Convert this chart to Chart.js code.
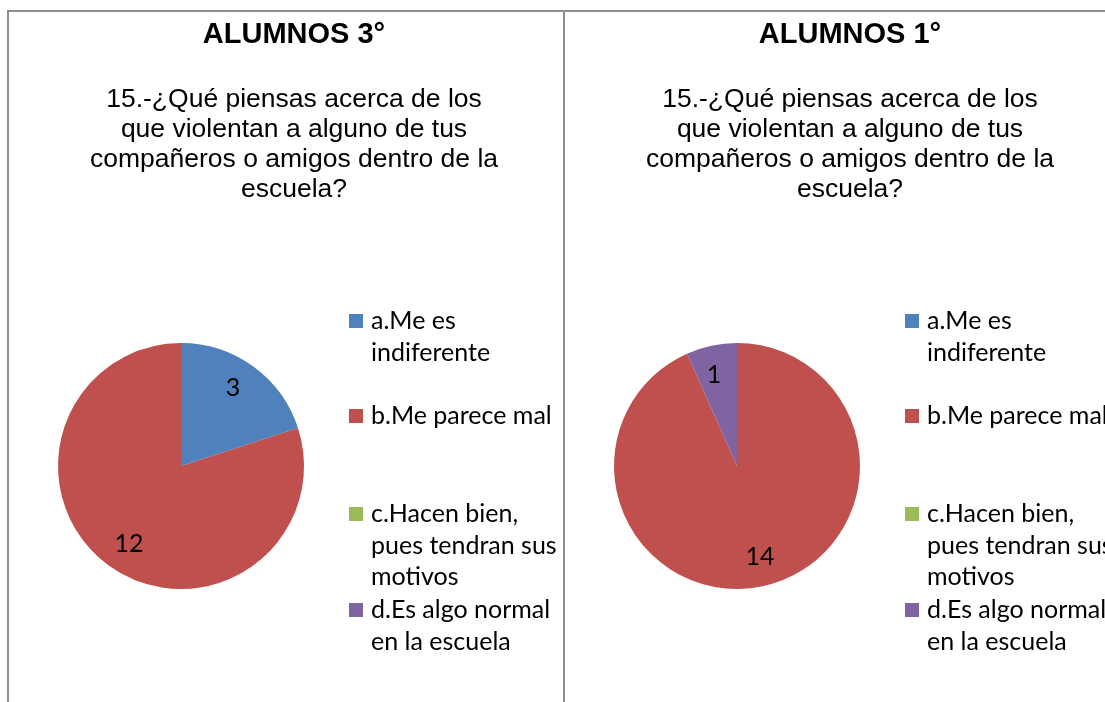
<!DOCTYPE html>
<html>
<head>
<meta charset="utf-8">
<script src="https://cdn.jsdelivr.net/npm/chart.js@4"></script>
<style>
  html, body { margin: 0; padding: 0; background: #fff; overflow: hidden; width: 1105px; height: 702px; }
  .panel { position: absolute; top: 10px; height: 700px; border-top: 2px solid #8e8e8e; box-sizing: border-box; }
  #p1 { left: 7px; width: 558px; border-left: 2px solid #8e8e8e; border-right: 2px solid #8e8e8e; }
  #p2 { left: 563px; width: 600px; }
  canvas { position: absolute; }
</style>
</head>
<body>
<div class="panel" id="p1"></div>
<div class="panel" id="p2"></div>
<canvas id="chart3" width="553" height="690" style="left:9px;top:12px"></canvas>
<canvas id="chart1" width="540" height="690" style="left:565px;top:12px"></canvas>
<script>
const categorias = [
  ['a.Me es', 'indiferente'],
  ['b.Me parece mal'],
  ['c.Hacen bien,', 'pues tendran sus', 'motivos'],
  ['d.Es algo normal', 'en la escuela']
]
const alumnos3 = [3, 12, 0, 0]
const alumnos1 = [0, 14, 0, 1]
const titulo3 = 'ALUMNOS 3°'
const titulo1 = 'ALUMNOS 1°'
const pregunta = [
  '15.-¿Qué piensas acerca de los',
  'que violentan a alguno de tus',
  'compañeros o amigos dentro de la',
  'escuela?'
]
const colores = ['#4F81BD', '#C0504D', '#9BBB59', '#8064A2']

const legendY = [309, 404, 502, 598]   // first line of each legend item
const legendFont = '25px Lato'

// titles, legend and value labels drawn on the canvas
const textos = {
  id: 'textos',
  afterDatasetsDraw(chart, args, opts) {
    const ctx = chart.ctx
    ctx.save()
    ctx.fillStyle = '#000'
    ctx.textAlign = 'center'
    ctx.textBaseline = 'middle'
    ctx.font = 'bold 29px "Liberation Sans", Arial'
    ctx.fillText(opts.titulo, 285, 23)
    ctx.font = '26.5px "Liberation Sans", Arial'
    pregunta.forEach((l, i) => ctx.fillText(l, 285, 88 + i * 30))

    // legend
    ctx.textAlign = 'left'
    ctx.font = legendFont
    categorias.forEach((lines, i) => {
      ctx.fillStyle = colores[i]
      ctx.fillRect(340, legendY[i] - 7, 14, 14)
      ctx.fillStyle = '#000'
      lines.forEach((l, j) => ctx.fillText(l, 362, legendY[i] + j * 31.5))
    })

    // value labels
    ctx.textAlign = 'center'
    const meta = chart.getDatasetMeta(0)
    const vals = chart.data.datasets[0].data
    meta.data.forEach((arc, i) => {
      if (!vals[i]) return
      const p = arc.getProps(['x', 'y', 'startAngle', 'endAngle', 'outerRadius'], true)
      const mid = (p.startAngle + p.endAngle) / 2 - 0.04
      const r = p.outerRadius * 0.76
      ctx.fillText(String(vals[i]), p.x + Math.cos(mid) * r, p.y + Math.sin(mid) * r)
    })
    ctx.restore()
  }
}

function makePie(el, valores, titulo, padRight) {
  return new Chart(document.getElementById(el), {
    type: 'pie',
    data: {
      labels: categorias.map(c => c.join(' ')),
      datasets: [{
        data: valores,
        backgroundColor: colores,
        borderWidth: 0,
        hoverOffset: 0
      }]
    },
    options: {
      responsive: false,
      animation: false,
      events: [],
      layout: { padding: { left: 49, right: padRight, top: 331, bottom: 113 } },
      plugins: {
        legend: { display: false },
        tooltip: { enabled: false },
        textos: { titulo: titulo }
      }
    },
    plugins: [textos]
  })
}

makePie('chart3', alumnos3, titulo3, 258)
makePie('chart1', alumnos1, titulo1, 245)
</script>
</body>
</html>
